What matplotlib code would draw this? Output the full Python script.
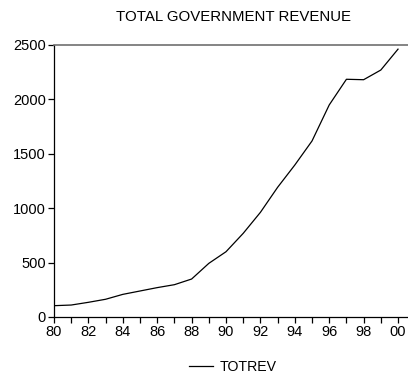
import numpy as np
import matplotlib.pyplot as plt

plt.rcParams['font.family'] = ['Liberation Sans', 'DejaVu Sans']

# annual total government revenue, 1980-2000
years = np.arange(1980, 2001)
totrev = [104, 110, 135, 163, 208, 239, 270, 297, 349, 493, 600,
          769, 962, 1192, 1397, 1618, 1949, 2185, 2181, 2270, 2462]

fig = plt.figure(figsize=(4.08, 3.8), dpi=100)
ax = fig.add_axes([54 / 408, 63 / 380, 354 / 408, 272 / 380])

ax.plot(years, totrev, color='black', lw=0.9, label='TOTREV')

ax.set_xlim(1980, 2000.58)
ax.set_ylim(0, 2500)
ax.set_xticks(years, minor=True)
ax.set_xticks(years[::2])
ax.set_xticklabels([str(y)[2:] for y in years[::2]])
ax.set_yticks([0, 500, 1000, 1500, 2000, 2500])

ax.spines['right'].set_visible(False)
ax.spines['top'].set_color('#707070')
ax.spines['top'].set_linewidth(1.2)
ax.spines['left'].set_linewidth(0.9)
ax.spines['bottom'].set_linewidth(0.9)
ax.tick_params(axis='both', which='both', direction='out', length=4, width=0.9, labelsize=10.5, pad=2)

fig.text(234 / 408, 1 - 17 / 380, 'TOTAL GOVERNMENT REVENUE', fontsize=10.8,
         ha='center', va='center')

fig.legend(loc='center', bbox_to_anchor=(233 / 408, 1 - 367 / 380), frameon=False,
           fontsize=10.2, handlelength=1.7, handletextpad=0.45)

fig.savefig('out.png', dpi=100)
